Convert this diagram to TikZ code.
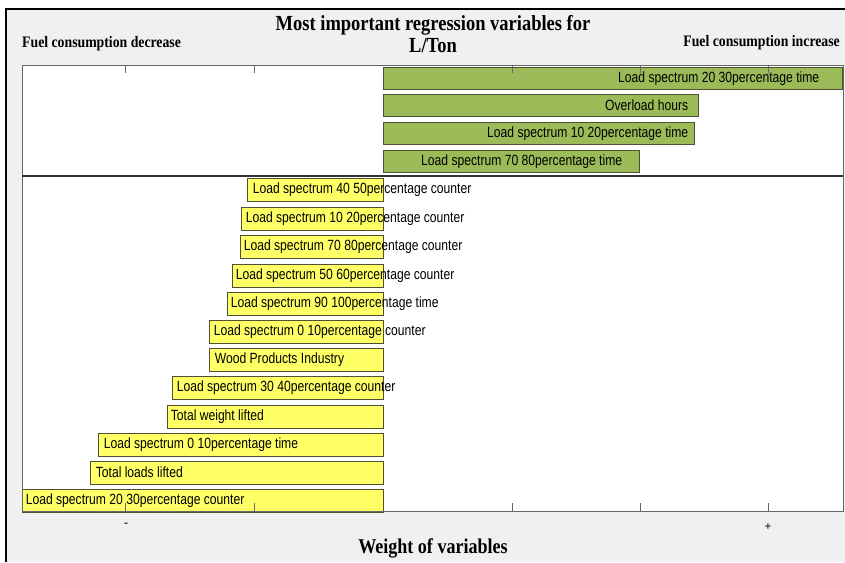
\documentclass[tikz,border=0pt]{standalone}
\usepackage{fontspec}
\setmainfont{Liberation Serif}
\newfontfamily\barfont[FakeStretch=0.82]{Liberation Sans}
\newfontfamily\headfont[FakeStretch=0.86]{Liberation Serif}
\usetikzlibrary{calc}

\definecolor{bggray}{RGB}{240,240,240}
\definecolor{bargreen}{RGB}{155,187,89}
\definecolor{baryellow}{RGB}{255,255,102}
\definecolor{baredge}{RGB}{80,80,55}

\begin{document}
\begin{tikzpicture}[x=1pt, y=-1pt,
  gbar/.style={draw=baredge, fill=bargreen, inner sep=0pt, minimum height=22pt, anchor=north west},
  ybar/.style={draw=baredge, fill=baryellow, inner sep=0pt, minimum height=23pt, anchor=north east},
  btxt/.style={font=\barfont\fontsize{14.8}{16}\selectfont, inner sep=0pt}]

\useasboundingbox (0,0) rectangle (845,562);
\fill[white] (0,0) rectangle (845,562);
\fill[bggray] (6,9) rectangle (845,562);
\draw[black, line width=2pt] (6,562) -- (6,9) -- (845,9);
\fill[white] (22,65) rectangle (843,511);

% titles
\node[font=\headfont\bfseries\fontsize{21.5}{22}\selectfont, align=center] (title) at (433,34) {Most important regression variables for\\L/Ton};
\node[font=\headfont\bfseries\fontsize{16}{17}\selectfont, anchor=west, inner sep=0pt] (declbl) at (22,44) {Fuel consumption decrease};
\node[font=\headfont\bfseries\fontsize{16}{17}\selectfont, anchor=east, inner sep=0pt] (inclbl) at (840,43) {Fuel consumption increase};
\node[font=\headfont\bfseries\fontsize{21}{23}\selectfont] (xlbl) at (433,548) {Weight of variables};
\node[font=\fontsize{12}{14}\selectfont\bfseries] (minus) at (126,525) {-};
\node[font=\fontsize{12}{14}\selectfont\bfseries] (plus) at (768,527) {+};

% increase side
\node[gbar, minimum width=459pt] (g1) at (383,67) {};
\node[gbar, minimum width=315pt] (g2) at (383,94) {};
\node[gbar, minimum width=311pt] (g3) at (383,122) {};
\node[gbar, minimum width=256pt] (g4) at (383,150) {};
\node[btxt, anchor=east] (g1txt) at ($(g1.east)+(-23,0)$) {Load spectrum 20 30percentage time};
\node[btxt, anchor=east] (g2txt) at ($(g2.east)+(-10,0)$) {Overload hours};
\node[btxt, anchor=east] (g3txt) at ($(g3.east)+(-6,0)$) {Load spectrum 10 20percentage time};
\node[btxt, anchor=east] (g4txt) at ($(g4.east)+(-17,0)$) {Load spectrum 70 80percentage time};

% decrease side
\node[ybar, minimum width=136pt] (y1) at (383,178) {};
\node[ybar, minimum width=142pt] (y2) at (383,207) {};
\node[ybar, minimum width=143pt] (y3) at (383,235) {};
\node[ybar, minimum width=151pt] (y4) at (383,264) {};
\node[ybar, minimum width=156pt] (y5) at (383,292) {};
\node[ybar, minimum width=174pt] (y6) at (383,320) {};
\node[ybar, minimum width=174pt] (y7) at (383,348) {};
\node[ybar, minimum width=211pt] (y8) at (383,376) {};
\node[ybar, minimum width=216pt] (y9) at (383,405) {};
\node[ybar, minimum width=285pt] (y10) at (383,433) {};
\node[ybar, minimum width=293pt] (y11) at (383,461) {};
\node[ybar, minimum width=361pt] (y12) at (383,489) {};
\node[btxt, anchor=west] (y1txt) at ($(y1.west)+(6,0)$) {Load spectrum 40 50percentage counter};
\node[btxt, anchor=west] (y2txt) at ($(y2.west)+(5,0)$) {Load spectrum 10 20percentage counter};
\node[btxt, anchor=west] (y3txt) at ($(y3.west)+(4,0)$) {Load spectrum 70 80percentage counter};
\node[btxt, anchor=west] (y4txt) at ($(y4.west)+(4,0)$) {Load spectrum 50 60percentage counter};
\node[btxt, anchor=west] (y5txt) at ($(y5.west)+(4,0)$) {Load spectrum 90 100percentage time};
\node[btxt, anchor=west] (y6txt) at ($(y6.west)+(5,0)$) {Load spectrum 0 10percentage counter};
\node[btxt, anchor=west] (y7txt) at ($(y7.west)+(6,0)$) {Wood Products Industry};
\node[btxt, anchor=west] (y8txt) at ($(y8.west)+(5,0)$) {Load spectrum 30 40percentage counter};
\node[btxt, anchor=west] (y9txt) at ($(y9.west)+(4,0)$) {Total weight lifted};
\node[btxt, anchor=west] (y10txt) at ($(y10.west)+(6,0)$) {Load spectrum 0 10percentage time};
\node[btxt, anchor=west] (y11txt) at ($(y11.west)+(6,0)$) {Total loads lifted};
\node[btxt, anchor=west] (y12txt) at ($(y12.west)+(4,0)$) {Load spectrum 20 30percentage counter};

% axes box and ticks
\draw[gray!80!black] (22,65) rectangle (843,511);
\draw[black!80, line width=1.6pt] (22,176) -- (843,176);
\draw[gray!80!black] (125,65) -- (125,73) (254,65) -- (254,73) (512,65) -- (512,73) (640,65) -- (640,73) (768,65) -- (768,73);
\draw[gray!80!black] (125,511) -- (125,503) (254,511) -- (254,503) (512,511) -- (512,503) (640,511) -- (640,503) (768,511) -- (768,503);

\end{tikzpicture}
\end{document}
